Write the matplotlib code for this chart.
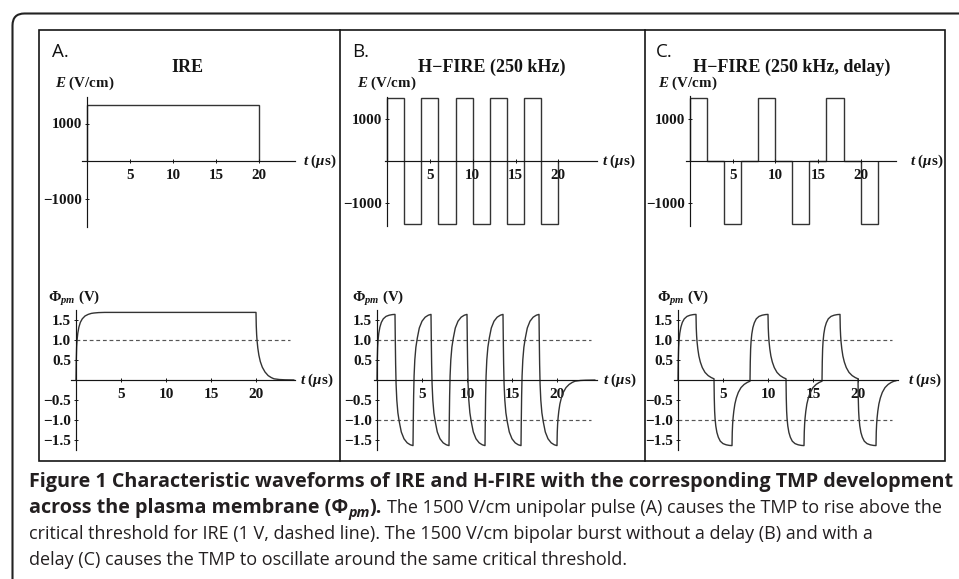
import matplotlib
matplotlib.use("Agg")
import matplotlib.pyplot as plt
from matplotlib.patches import Rectangle, PathPatch
from matplotlib.path import Path

# ---------------- data ----------------
# Electric field waveforms (V/cm): piecewise-constant levels between edges (us)
ire_edges = [0, 20]
ire_levels = [1500]

hf_edges = [0, 2, 4, 6, 8, 10, 12, 14, 16, 18, 20]
hf_levels = [1500, -1500, 1500, -1500, 1500, -1500, 1500, -1500, 1500, -1500]

hfd_edges = [0, 2, 4, 6, 8, 10, 12, 14, 16, 18, 20, 22]
hfd_levels = [1500, 0, -1500, 0, 1500, 0, -1500, 0, 1500, 0, -1500]

# Transmembrane potential (V) vs time (us)
tmp_a_t = [0, 0.03, 0.07, 0.12, 0.2, 0.32, 0.48, 0.7, 1.0, 1.35, 1.7, 2.0, 2.5, 3.2,
           20.0, 20.03, 20.07, 20.12, 20.2, 20.32, 20.48, 20.7, 21.0, 21.35, 21.7, 22.0, 22.6, 23.2, 24.2]
tmp_a_v = [0, 0.5, 0.82, 1.0, 1.17, 1.32, 1.44, 1.53, 1.6, 1.64, 1.665, 1.675, 1.685, 1.69,
           1.69, 1.35, 1.14, 0.98, 0.8, 0.62, 0.46, 0.32, 0.2, 0.11, 0.06, 0.03, 0.012, 0.005, 0.001]

tmp_b_t = [0, 0.03, 0.07, 0.12, 0.2, 0.32, 0.48, 0.7, 1.0, 1.35, 1.7, 2.0,
           2.03, 2.07, 2.12, 2.2, 2.32, 2.48, 2.7, 3.0, 3.35, 3.7, 4.0,
           4.03, 4.07, 4.12, 4.2, 4.32, 4.48, 4.7, 5.0, 5.35, 5.7, 6.0,
           6.03, 6.07, 6.12, 6.2, 6.32, 6.48, 6.7, 7.0, 7.35, 7.7, 8.0,
           8.03, 8.07, 8.12, 8.2, 8.32, 8.48, 8.7, 9.0, 9.35, 9.7, 10.0,
           10.03, 10.07, 10.12, 10.2, 10.32, 10.48, 10.7, 11.0, 11.35, 11.7, 12.0,
           12.03, 12.07, 12.12, 12.2, 12.32, 12.48, 12.7, 13.0, 13.35, 13.7, 14.0,
           14.03, 14.07, 14.12, 14.2, 14.32, 14.48, 14.7, 15.0, 15.35, 15.7, 16.0,
           16.03, 16.07, 16.12, 16.2, 16.32, 16.48, 16.7, 17.0, 17.35, 17.7, 18.0,
           18.03, 18.07, 18.12, 18.2, 18.32, 18.48, 18.7, 19.0, 19.35, 19.7, 20.0,
           20.03, 20.07, 20.12, 20.2, 20.32, 20.48, 20.7, 21.0, 21.35, 21.7, 22.0, 22.6, 23.2, 24.2]
tmp_b_v = [0, 0.5, 0.82, 1.0, 1.17, 1.32, 1.44, 1.53, 1.59, 1.62, 1.635, 1.64,
           1.05, 0.4, -0.1, -0.5, -0.82, -1.05, -1.3, -1.47, -1.57, -1.62, -1.64,
           -1.05, -0.4, 0.1, 0.5, 0.82, 1.05, 1.3, 1.47, 1.57, 1.62, 1.64,
           1.05, 0.4, -0.1, -0.5, -0.82, -1.05, -1.3, -1.47, -1.57, -1.62, -1.64,
           -1.05, -0.4, 0.1, 0.5, 0.82, 1.05, 1.3, 1.47, 1.57, 1.62, 1.64,
           1.05, 0.4, -0.1, -0.5, -0.82, -1.05, -1.3, -1.47, -1.57, -1.62, -1.64,
           -1.05, -0.4, 0.1, 0.5, 0.82, 1.05, 1.3, 1.47, 1.57, 1.62, 1.64,
           1.05, 0.4, -0.1, -0.5, -0.82, -1.05, -1.3, -1.47, -1.57, -1.62, -1.64,
           -1.05, -0.4, 0.1, 0.5, 0.82, 1.05, 1.3, 1.47, 1.57, 1.62, 1.64,
           1.05, 0.4, -0.1, -0.5, -0.82, -1.05, -1.3, -1.47, -1.57, -1.62, -1.64,
           -1.3, -1.1, -0.95, -0.78, -0.6, -0.45, -0.31, -0.19, -0.11, -0.06, -0.03, -0.012, -0.005, -0.001]

tmp_c_t = [0, 0.03, 0.07, 0.12, 0.2, 0.32, 0.48, 0.7, 1.0, 1.35, 1.7, 2.0,
           2.03, 2.07, 2.12, 2.2, 2.32, 2.48, 2.7, 3.0, 3.35, 3.7, 4.0,
           4.03, 4.07, 4.12, 4.2, 4.32, 4.48, 4.7, 5.0, 5.35, 5.7, 6.0,
           6.03, 6.07, 6.12, 6.2, 6.32, 6.48, 6.7, 7.0, 7.35, 7.7, 8.0,
           8.03, 8.07, 8.12, 8.2, 8.32, 8.48, 8.7, 9.0, 9.35, 9.7, 10.0,
           10.03, 10.07, 10.12, 10.2, 10.32, 10.48, 10.7, 11.0, 11.35, 11.7, 12.0,
           12.03, 12.07, 12.12, 12.2, 12.32, 12.48, 12.7, 13.0, 13.35, 13.7, 14.0,
           14.03, 14.07, 14.12, 14.2, 14.32, 14.48, 14.7, 15.0, 15.35, 15.7, 16.0,
           16.03, 16.07, 16.12, 16.2, 16.32, 16.48, 16.7, 17.0, 17.35, 17.7, 18.0,
           18.03, 18.07, 18.12, 18.2, 18.32, 18.48, 18.7, 19.0, 19.35, 19.7, 20.0,
           20.03, 20.07, 20.12, 20.2, 20.32, 20.48, 20.7, 21.0, 21.35, 21.7, 22.0,
           22.03, 22.07, 22.12, 22.2, 22.32, 22.48, 22.7, 23.0, 23.35, 23.7, 24.0, 24.2]
tmp_c_v = [0, 0.5, 0.82, 1.0, 1.17, 1.32, 1.44, 1.53, 1.59, 1.62, 1.635, 1.64,
           1.3, 1.1, 0.95, 0.78, 0.6, 0.45, 0.31, 0.19, 0.11, 0.06, 0.03,
           -0.45, -0.78, -0.97, -1.15, -1.31, -1.43, -1.53, -1.59, -1.62, -1.635, -1.64,
           -1.3, -1.1, -0.95, -0.78, -0.6, -0.45, -0.31, -0.19, -0.11, -0.06, -0.03,
           0.45, 0.78, 0.97, 1.15, 1.31, 1.43, 1.53, 1.59, 1.62, 1.635, 1.64,
           1.3, 1.1, 0.95, 0.78, 0.6, 0.45, 0.31, 0.19, 0.11, 0.06, 0.03,
           -0.45, -0.78, -0.97, -1.15, -1.31, -1.43, -1.53, -1.59, -1.62, -1.635, -1.64,
           -1.3, -1.1, -0.95, -0.78, -0.6, -0.45, -0.31, -0.19, -0.11, -0.06, -0.03,
           0.45, 0.78, 0.97, 1.15, 1.31, 1.43, 1.53, 1.59, 1.62, 1.635, 1.64,
           1.3, 1.1, 0.95, 0.78, 0.6, 0.45, 0.31, 0.19, 0.11, 0.06, 0.03,
           -0.45, -0.78, -0.97, -1.15, -1.31, -1.43, -1.53, -1.59, -1.62, -1.635, -1.64,
           -1.3, -1.1, -0.95, -0.78, -0.6, -0.45, -0.31, -0.19, -0.11, -0.06, -0.03, -0.02]

threshold = 1.0
threshold_end = 23.8

e_yticks = [-1000, 1000]
e_yticklabels = ["\u22121000", "1000"]
v_yticks = [-1.5, -1.0, -0.5, 0.5, 1.0, 1.5]
v_yticklabels = ["\u22121.5", "\u22121.0", "\u22120.5", "0.5", "1.0", "1.5"]
t_ticks = [5, 10, 15, 20]

titles = ["IRE", "H\u2212FIRE (250 kHz)", "H\u2212FIRE (250 kHz, delay)"]
letters = ["A.", "B.", "C."]

caption_l1 = "Figure 1 Characteristic waveforms of IRE and H-FIRE with the corresponding TMP development"
caption_l2a = "across the plasma membrane (\u03a6"
caption_l2sub = "pm"
caption_l2b = ")."
caption_l2c = " The 1500 V/cm unipolar pulse (A) causes the TMP to rise above the"
caption_l3 = "critical threshold for IRE (1 V, dashed line). The 1500 V/cm bipolar burst without a delay (B) and with a"
caption_l4 = "delay (C) causes the TMP to oscillate around the same critical threshold."

# ---------------- style ----------------
plt.rcParams['font.family'] = ['Liberation Serif', 'DejaVu Serif']
plt.rcParams['font.weight'] = 'bold'
plt.rcParams['mathtext.fontset'] = 'custom'
plt.rcParams['mathtext.rm'] = 'Liberation Serif:bold'
plt.rcParams['mathtext.it'] = 'Liberation Serif:italic:bold'
plt.rcParams['mathtext.bf'] = 'Liberation Serif:bold'

W, H = 959, 579
fig = plt.figure(figsize=(W / 100, H / 100), dpi=100)
bg = fig.add_axes([0, 0, 1, 1])
bg.set_xlim(0, W)
bg.set_ylim(H, 0)
bg.axis('off')

INK = '#151515'
CURVE = '#333333'

# outer rounded frame (only top-left visible)
r = 12
verts = [(12.5, H + 2), (12.5, 13.5 + r), (12.5, 13.5), (12.5 + r, 13.5), (W + 2, 13.5)]
codes = [Path.MOVETO, Path.LINETO, Path.CURVE3, Path.CURVE3, Path.LINETO]
bg.add_patch(PathPatch(Path(verts, codes), fill=False, lw=1.5, ec='#222222', clip_on=False))

# panel frames
bg.add_patch(Rectangle((38.5, 29.5), 906.5, 431, fill=False, lw=1.2, ec=INK))
bg.plot([339.5, 339.5], [29.5, 460.5], color=INK, lw=1.2)
bg.plot([644.5, 644.5], [29.5, 460.5], color=INK, lw=1.2)


def make_axes(ox, oy, sx, sy, xlim, ylim):
    x0 = ox + xlim[0] * sx
    x1 = ox + xlim[1] * sx
    ytop = oy - ylim[1] * sy
    ybot = oy - ylim[0] * sy
    ax = fig.add_axes([x0 / W, 1 - ybot / H, (x1 - x0) / W, (ybot - ytop) / H])
    ax.set_xlim(*xlim)
    ax.set_ylim(*ylim)
    ax.patch.set_visible(False)
    for s in ['top', 'right']:
        ax.spines[s].set_visible(False)
    ax.spines['left'].set_position(('data', 0))
    ax.spines['bottom'].set_position(('data', 0))
    for s in ['left', 'bottom']:
        ax.spines[s].set_linewidth(0.85)
        ax.spines[s].set_color(INK)
    return ax


def style(ax, yt, ylab, size):
    ax.set_xticks(t_ticks)
    ax.set_xticklabels([str(v) for v in t_ticks])
    ax.set_yticks(yt)
    ax.set_yticklabels(ylab)
    ax.tick_params(direction='inout', length=3.2, width=0.7, colors=INK, labelsize=size)
    ax.tick_params(axis='x', pad=4.3)
    ax.tick_params(axis='y', pad=1.8)


# --- top (E field) plots ---
top_specs = [
    (87, 161, 8.6, 0.0375, (-0.6, 24.2), (-1760, 1710), ire_levels, ire_edges),
    (387, 161, 8.57, 0.0417, (-0.25, 24.5), (-1570, 1540), hf_levels, hf_edges),
    (690, 161, 8.53, 0.0417, (-0.5, 24.2), (-1570, 1550), hfd_levels, hfd_edges),
]
for ox, oy, sx, sy, xl, yl, lev, edg in top_specs:
    ax = make_axes(ox, oy, sx, sy, xl, yl)
    ax.stairs(lev, edg, baseline=0, color=CURVE, lw=1.0)
    style(ax, e_yticks, e_yticklabels, 10.8)

# --- bottom (TMP) plots ---
bot_specs = [
    (76, 380, 9.0, 40, (-0.6, 24.3), (-1.75, 1.75), tmp_a_t, tmp_a_v, [threshold]),
    (377, 380, 9.0, 40, (-0.3, 24.4), (-1.75, 1.75), tmp_b_t, tmp_b_v, [threshold, -threshold]),
    (678, 380, 9.0, 40, (-0.4, 24.4), (-1.75, 1.75), tmp_c_t, tmp_c_v, [threshold, -threshold]),
]
for ox, oy, sx, sy, xl, yl, tt, vv, thr in bot_specs:
    ax = make_axes(ox, oy, sx, sy, xl, yl)
    ax.hlines(thr, 0, threshold_end, colors='#555555', linestyles=(0, (3.2, 2.4)), lw=0.85)
    ax.plot(tt, vv, color=CURVE, lw=1.0)
    style(ax, v_yticks, v_yticklabels, 11)

# --- labels ---
lab = dict(ha='left', va='center', fontsize=10.8, color=INK)
for x in (55, 357, 658):
    bg.text(x, 83, r'$E$ (V/cm)', **lab)
for x, y in ((303, 161), (602, 161), (910, 161), (300, 380), (603, 380), (908, 380)):
    bg.text(x, y, r'$t$ ($\mu$s)', **lab)
for x in (48, 352, 657):
    bg.text(x, 299, r'$\Phi_{pm}$ (V)', **lab)

for x, ttl in zip((187, 492, 792), titles):
    bg.text(x, 67, ttl, ha='center', va='center', fontsize=13, color=INK)
for x, l in zip((52, 352, 656), letters):
    bg.text(x, 52, l, ha='left', va='center', fontsize=13.5, family='Open Sans',
            weight='normal', color='#111111')

# --- caption ---
fig.canvas.draw()
R = fig.canvas.get_renderer()


def tw(s, **kw):
    t = bg.text(0, 0, s, **kw)
    w = t.get_window_extent(R).width
    t.remove()
    return w


CB = dict(family='Open Sans', weight='bold', color='#231f20')
CR = dict(family='Open Sans', weight='normal', color='#231f20')
size_b = 12 * 922 / tw(caption_l1, fontsize=12, **CB)
size_r = 12 * 843 / tw(caption_l3, fontsize=12, **CR)
CB['fontsize'] = size_b
CR['fontsize'] = size_r
CBI = dict(CB)
CBI['fontsize'] = size_b * 0.72
CBI['style'] = 'italic'


def draw_runs(x, y, parts):
    for s, kw, dy in parts:
        sp = tw('a a', **kw) - tw('aa', **kw)
        lead = len(s) - len(s.lstrip(' '))
        trail = len(s) - len(s.rstrip(' '))
        x += lead * sp
        t = bg.text(x, y + dy, s.strip(' '), va='baseline', ha='left', **kw)
        x += t.get_window_extent(R).width + trail * sp


x0 = 29
draw_runs(x0, 487, [(caption_l1, CB, 0)])
draw_runs(x0, 513, [(caption_l2a, CB, 0), (caption_l2sub, CBI, 4), (caption_l2b, CB, 0),
                    (caption_l2c, CR, 0)])
draw_runs(x0, 539, [(caption_l3, CR, 0)])
draw_runs(x0, 565, [(caption_l4, CR, 0)])

fig.savefig('out.png', dpi=100)
